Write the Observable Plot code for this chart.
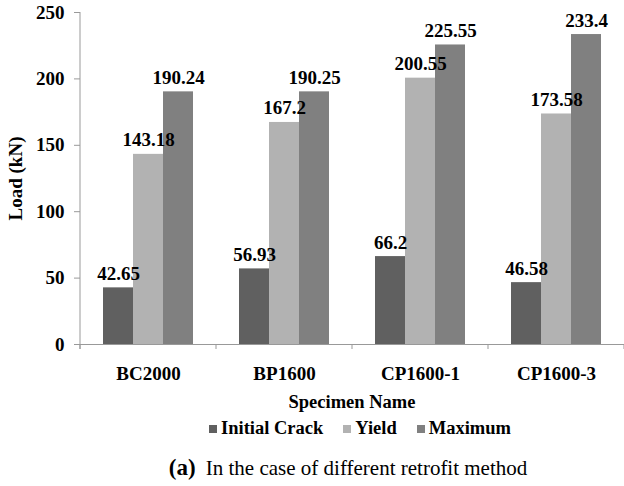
<!DOCTYPE html>
<html><head><meta charset="utf-8">
<script src="https://cdn.jsdelivr.net/npm/d3@7"></script>
<script src="https://cdn.jsdelivr.net/npm/@observablehq/plot@0.6"></script>
<style>
body{margin:0;background:#fff;font-family:"Liberation Serif","Times New Roman",serif;color:#000;}
#wrap{width:624px;}
#xname{font-weight:bold;font-size:18.5px;line-height:22px;height:22px;margin-top:3px;padding-left:80px;text-align:center;white-space:nowrap;}
#legend{font-weight:bold;font-size:18.5px;line-height:22px;height:22px;margin-top:4px;padding-left:96px;text-align:center;white-space:nowrap;}
#legend .item{display:inline-block;margin:0 10px;}
#legend .sw{display:inline-block;width:8px;height:8px;margin-right:4px;vertical-align:1px;}
#caption{font-size:21px;line-height:28px;margin-top:15px;padding-left:72px;text-align:center;white-space:nowrap;}
#caption b{font-size:23px;margin-right:5px;}
</style></head><body>
<div id="wrap">
<div id="chart"></div>
<div id="xname">Specimen Name</div>
<div id="legend"></div>
<div id="caption"><b>(a)</b> In the case of different retrofit method</div>
</div>
<script>
const specimens = ["BC2000", "BP1600", "CP1600-1", "CP1600-3"];
const seriesNames = ["Initial Crack", "Yield", "Maximum"];
const initialCrack = [42.65, 56.93, 66.2, 46.58];
const yieldLoad = [143.18, 167.2, 200.55, 173.58];
const maximumLoad = [190.24, 190.25, 225.55, 233.4];
const yTicks = [0, 50, 100, 150, 200, 250];
const colors = ["#606060", "#b2b2b2", "#808080"];

const seriesValues = [initialCrack, yieldLoad, maximumLoad];
const data = specimens.flatMap((s, i) =>
  seriesNames.map((n, j) => ({specimen: s, series: n, value: seriesValues[j][i]}))
);

const chart = Plot.plot({
  width: 624,
  height: 388,
  marginTop: 12,
  marginBottom: 44,
  marginLeft: 80,
  marginRight: 0,
  style: {fontFamily: '"Liberation Serif","Times New Roman",serif', fontSize: "19px", fontWeight: "bold", color: "#000", background: "#fff"},
  fx: {domain: specimens, paddingInner: 0, paddingOuter: 0, axis: null, label: null},
  x: {domain: seriesNames, paddingInner: 0, paddingOuter: 0.75, axis: null},
  y: {domain: [0, 250], axis: null},
  color: {domain: seriesNames, range: colors},
  marks: [
    Plot.barY(data, {fx: "specimen", x: "series", y: "value", fill: "series"}),
    Plot.ruleY([0], {stroke: "#999"}),
    Plot.text(data, {fx: "specimen", x: "series", y: "value", text: d => String(d.value), lineAnchor: "bottom", dy: -8, fontSize: 19, fontWeight: "bold", fill: "#000"}),
    Plot.axisY({ticks: yTicks, tickSize: 6, tickPadding: 10, stroke: "#999", fill: "#000", label: "Load (kN)", labelArrow: "none", labelAnchor: "center", labelOffset: 72}),
    Plot.axisFx({anchor: "bottom", tickSize: 0, tickPadding: 22, label: null, fill: "#000"})
  ]
});

// axis line and category boundary ticks, placed with the plot's own scales
const fx = chart.scale("fx");
const y = chart.scale("y");
const svg = d3.select(chart);
const edges = specimens.map(d => fx.apply(d)).concat([fx.apply(specimens[specimens.length - 1]) + fx.bandwidth]);
const g = svg.append("g").attr("stroke", "#999");
g.append("line").attr("x1", edges[0]).attr("x2", edges[0]).attr("y1", y.apply(250)).attr("y2", y.apply(0) + 5);
g.selectAll("line.edge").data(edges).join("line").attr("class", "edge")
  .attr("x1", d => d).attr("x2", d => d).attr("y1", y.apply(0)).attr("y2", y.apply(0) + 5);

document.getElementById("chart").appendChild(chart);

const legend = d3.select("#legend");
seriesNames.forEach((n, j) => {
  const it = legend.append("span").attr("class", "item");
  it.append("span").attr("class", "sw").style("background", colors[j]);
  it.append("span").text(n);
});
</script>
</body></html>
